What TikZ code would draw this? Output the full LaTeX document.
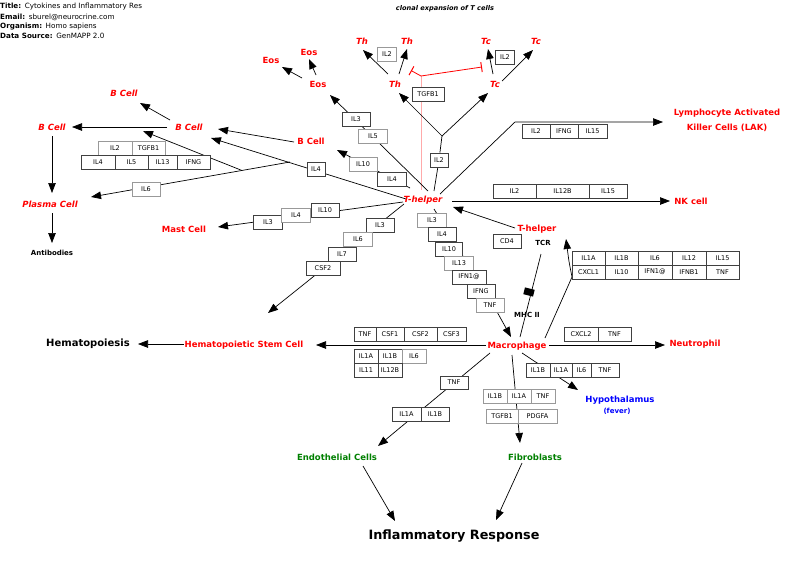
\documentclass[tikz,border=0pt]{standalone}
\usepackage{fontspec}
\setmainfont{DejaVu Sans}
\usetikzlibrary{arrows.meta,backgrounds}
\definecolor{gred}{RGB}{255,0,0}
\definecolor{ggreen}{RGB}{0,128,0}
\definecolor{gblue}{RGB}{0,0,255}
\definecolor{gpink}{RGB}{255,170,170}
\newcommand\gmcell[7][bx]{\node[#1,minimum width={#5-#3},minimum height={#6-#4}] (#2) at ({(#3+#5)/2},{(#4+#6)/2}) {#7};}
\newcommand\gmbox[6][bx]{\node[#1,minimum width=#5] (#2) at (#3,#4) {#6};}
\begin{document}
\begin{tikzpicture}[x=1pt,y=-1pt,
 hdr/.style={font=\fontsize{7.2}{8}\selectfont, inner sep=0pt, anchor=west},
 lbl/.style={font=\fontsize{8.5}{10}\selectfont\bfseries, text=gred, inner sep=1pt},
 lbli/.style={lbl, font=\fontsize{8.5}{10}\selectfont\bfseries\itshape},
 blk/.style={font=\fontsize{7}{8}\selectfont\bfseries, inner sep=1pt},
 bx/.style={draw=black!75, fill=white, line width=0.6pt, font=\fontsize{6.5}{7}\selectfont, inner sep=0pt, minimum height=14pt},
 gbx/.style={bx, draw=black!40},
 conn/.style={line width=0.7pt, black},
 arr/.style={conn, -{Triangle[length=10pt,width=7.5pt]}},
 inh/.style={gred, line width=0.8pt, -{Bar[width=10pt,line width=1pt]}}
]
\useasboundingbox (0,0) rectangle (800,563);
% header
\node[hdr] (h1) at (0,7) {\textbf{Title:}\enspace Cytokines and Inflammatory Res};
\node[hdr] (h2) at (0,17) {\textbf{Email:}\enspace sburel@neurocrine.com};
\node[hdr] (h3) at (0,27) {\textbf{Organism:}\enspace Homo sapiens};
\node[hdr] (h4) at (0,35.5) {\textbf{Data Source:}\enspace GenMAPP 2.0};
\node[font=\fontsize{6.6}{7}\selectfont\bfseries\itshape] (clon) at (445,9) {clonal expansion of T cells};
% labels
\node[lbli] (Th1) at (362,41) {Th};
\node[lbli] (Th2) at (407,41) {Th};
\node[lbli] (Tc1) at (486,41) {Tc};
\node[lbli] (Tc2) at (536,41) {Tc};
\node[lbl] (Eos1) at (309,52) {Eos};
\node[lbl] (Eos2) at (271,60) {Eos};
\node[lbl] (Eos3) at (318,84) {Eos};
\node[lbli] (ThM) at (395,84) {Th};
\node[lbli] (TcM) at (495,84) {Tc};
\node[lbli] (BCt) at (124,93) {B Cell};
\node[lbli] (BCl) at (52,127) {B Cell};
\node[lbli] (BCm) at (189,127) {B Cell};
\node[lbl] (BCr) at (311,141) {B Cell};
\node[lbl, align=center, font=\fontsize{8.5}{15}\selectfont\bfseries] (LAK) at (727,120) {Lymphocyte Activated\\Killer Cells (LAK)};
\node[lbli] (TH) at (423,200) {T-helper};
\node[lbl] (NK) at (691,201) {NK cell};
\node[lbli] (PC) at (50,204) {Plasma Cell};
\node[lbl] (Mast) at (184,229) {Mast Cell};
\node[lbl] (TH2) at (537,229) {T-helper};
\node[blk] (TCR) at (543,243) {TCR};
\node[blk] (MHC) at (527,315) {MHC II};
\node[blk] (Ab) at (52,253) {Antibodies};
\node[font=\fontsize{10}{12}\selectfont\bfseries] (Hpoi) at (88,344) {Hematopoiesis};
\node[lbl] (HSC) at (244,345) {Hematopoietic Stem Cell};
\node[lbl] (Mac) at (517,346) {Macrophage};
\node[lbl] (Neu) at (695,344) {Neutrophil};
\node[lbl, text=gblue] (Hyp) at (620,400) {Hypothalamus};
\node[lbl, text=gblue, font=\fontsize{7}{8}\selectfont\bfseries] (fev) at (617,411) {(fever)};
\node[lbl, text=ggreen] (Endo) at (337,457) {Endothelial Cells};
\node[lbl, text=ggreen] (Fib) at (535,457) {Fibroblasts};
\node[font=\fontsize{12.8}{14}\selectfont\bfseries] (IR) at (454,536) {Inflammatory Response};
% boxes
\gmbox[gbx]{bIL2a}{387}{54}{19}{IL2}
\gmbox{bIL2b}{505}{57}{19}{IL2}
\gmbox{bTGFa}{428}{94}{32}{TGFB1}
\gmbox{bIL3a}{356}{119}{28}{IL3}
\gmbox[gbx]{bIL5a}{373}{136}{29}{IL5}
\gmbox[gbx]{bIL10a}{363}{164}{28}{IL10}
\gmbox{bIL4a}{392}{179}{29}{IL4}
\gmbox{bIL2c}{439}{160}{18}{IL2}
\gmbox{bIL4b}{316}{169}{18}{IL4}
\gmcell[gbx]{bB1}{98}{141}{132}{155}{IL2}
\gmcell[gbx]{bB2}{132}{141}{165}{155}{TGFB1}
\gmcell{bB3}{81}{155}{115}{169}{IL4}
\gmcell{bB4}{115}{155}{148}{169}{IL5}
\gmcell{bB5}{148}{155}{177}{169}{IL13}
\gmcell{bB6}{177}{155}{210}{169}{IFNG}
\gmbox[gbx]{bIL6}{146}{189}{28}{IL6}
\gmbox{mIL3}{268}{222}{29}{IL3}
\gmbox[gbx]{mIL4}{296}{215}{29}{IL4}
\gmbox{mIL10}{325}{210}{28}{IL10}
\gmbox{sIL3}{380}{225}{28}{IL3}
\gmbox[gbx]{sIL6}{358}{239}{29}{IL6}
\gmbox{sIL7}{342}{254}{28}{IL7}
\gmbox{sCSF2}{323}{268}{34}{CSF2}
\gmbox[gbx]{rIL3}{432}{220}{29}{IL3}
\gmbox{rIL4}{442}{234}{28}{IL4}
\gmbox{rIL10}{449}{249}{27}{IL10}
\gmbox[gbx]{rIL13}{459}{263}{29}{IL13}
\gmbox{rIFN}{469}{277}{34}{IFN1@}
\gmbox{rIFNG}{481}{291}{28}{IFNG}
\gmbox[gbx]{rTNF}{490}{305}{28}{TNF}
\gmbox{bCD4}{507}{241}{28}{CD4}
\gmcell{lk1}{522}{124}{550}{138}{IL2}
\gmcell{lk2}{550}{124}{578}{138}{IFNG}
\gmcell{lk3}{578}{124}{607}{138}{IL15}
\gmcell{nk1}{493}{184}{536}{198}{IL2}
\gmcell{nk2}{536}{184}{589}{198}{IL12B}
\gmcell{nk3}{589}{184}{627}{198}{IL15}
\gmcell{t1}{572}{251}{605}{265}{IL1A}
\gmcell{t2}{605}{251}{638}{265}{IL1B}
\gmcell{t3}{638}{251}{672}{265}{IL6}
\gmcell{t4}{672}{251}{706}{265}{IL12}
\gmcell{t5}{706}{251}{739}{265}{IL15}
\gmcell{t6}{572}{265}{605}{279}{CXCL1}
\gmcell{t7}{605}{265}{638}{279}{IL10}
\gmcell{t8}{638}{265}{672}{279}{IFN1@}
\gmcell{t9}{672}{265}{706}{279}{IFNB1}
\gmcell{t10}{706}{265}{739}{279}{TNF}
\gmcell{h1c}{354}{327}{376}{341}{TNF}
\gmcell{h2c}{376}{327}{404}{341}{CSF1}
\gmcell{h3c}{404}{327}{437}{341}{CSF2}
\gmcell{h4c}{437}{327}{466}{341}{CSF3}
\gmcell{h5c}{354}{349}{378}{363}{IL1A}
\gmcell{h6c}{378}{349}{402}{363}{IL1B}
\gmcell[gbx]{h7c}{402}{349}{426}{363}{IL6}
\gmcell{h8c}{354}{363}{378}{377}{IL11}
\gmcell{h9c}{378}{363}{402}{377}{IL12B}
\gmcell{n1c}{564}{327}{598}{341}{CXCL2}
\gmcell{n2c}{598}{327}{631}{341}{TNF}
\gmcell{y1c}{526}{363}{550}{377}{IL1B}
\gmcell{y2c}{550}{363}{572}{377}{IL1A}
\gmcell{y3c}{572}{363}{591}{377}{IL6}
\gmcell{y4c}{591}{363}{619}{377}{TNF}
\gmcell{e1c}{440}{376}{468}{389}{TNF}
\gmcell{e2c}{392}{407}{421}{421}{IL1A}
\gmcell{e3c}{421}{407}{449}{421}{IL1B}
\gmcell[gbx]{f1c}{483}{389}{507}{403}{IL1B}
\gmcell[gbx]{f2c}{507}{389}{531}{403}{IL1A}
\gmcell[gbx]{f3c}{531}{389}{555}{403}{TNF}
\gmcell[gbx]{f4c}{486}{409}{518}{423}{TGFB1}
\gmcell[gbx]{f5c}{518}{409}{557}{423}{PDGFA}
\node[fill=black, minimum width=10pt, minimum height=7pt, inner sep=0pt, rotate=-14] (blkm) at (529,292) {};
% connector points
\coordinate (pE3a) at (316,75); \coordinate (pE1) at (309,59);
\coordinate (pE3b) at (302,78); \coordinate (pE2) at (282,67);
\coordinate (pThMa) at (388,74); \coordinate (pTh1) at (363,50);
\coordinate (pThMb) at (399,74); \coordinate (pTh2) at (407,49);
\coordinate (pTcMa) at (493,74); \coordinate (pTc1) at (488,49);
\coordinate (pTcMb) at (502,81); \coordinate (pTc2) at (533,50);
\coordinate (R0) at (421,76); \coordinate (R1) at (411,70.5); \coordinate (R2) at (482,67); \coordinate (R3) at (421,190);
\coordinate (J) at (442,136); \coordinate (pTHa) at (434,191);
\coordinate (pThMc) at (399,93); \coordinate (pTcMc) at (488,93);
\coordinate (pTHb) at (428,191); \coordinate (pE3c) at (330,95);
\coordinate (pTHc) at (410,188); \coordinate (pBCr) at (337,150);
\coordinate (pBCra) at (294,142); \coordinate (pBCm1) at (218,129);
\coordinate (pTHd) at (406,199); \coordinate (pBCm2) at (211,138);
\coordinate (J1) at (290,162); \coordinate (K) at (242,170.5); \coordinate (pPC) at (91,197);
\coordinate (pBmid) at (143,131);
\coordinate (pBCm3) at (170,120); \coordinate (pBCt) at (140,103);
\coordinate (pBCm4) at (167,127); \coordinate (pBCl) at (72,127);
\coordinate (pBCl2) at (52,136); \coordinate (pPC1) at (52,193);
\coordinate (pPC2) at (52,213); \coordinate (pAb) at (52,243);
\coordinate (pTHe) at (403,202); \coordinate (pMast) at (218,227);
\coordinate (pTHf) at (404,204); \coordinate (pHs) at (268,313);
\coordinate (pTHg) at (434,209); \coordinate (pTNF) at (496,310); \coordinate (pMac1) at (511,337);
\coordinate (pTHh) at (440,194); \coordinate (pLK) at (515,122); \coordinate (pLAK) at (663,122);
\coordinate (pTHi) at (452,201); \coordinate (pNK) at (670,201);
\coordinate (pTH2) at (515,228); \coordinate (pTHj) at (453,207);
\coordinate (pTCR) at (541,254); \coordinate (pMHC) at (520,337);
\coordinate (pMac2) at (545,338); \coordinate (pTb) at (572,277); \coordinate (pTH2b) at (566,239);
\coordinate (pMac3) at (486,345); \coordinate (pHSC) at (316,345);
\coordinate (pHSC2) at (184,344); \coordinate (pHpoi) at (138,344);
\coordinate (pMac4) at (549,345); \coordinate (pNeu) at (665,345);
\coordinate (pMac5) at (522,353); \coordinate (pHyp) at (578,390);
\coordinate (pMac6) at (512,355); \coordinate (pFib) at (520,443);
\coordinate (pMac7) at (490,353); \coordinate (pEndo) at (378,446);
\coordinate (pEndo2) at (363,466); \coordinate (pIR1) at (395,521);
\coordinate (pFib2) at (522,463); \coordinate (pIR2) at (496,520);
\begin{pgfonlayer}{background}
\fill[white] (0,0) rectangle (800,563);
\draw[arr] (pE3a) -- (pE1);
\draw[arr] (pE3b) -- (pE2);
\draw[arr] (pThMa) -- (pTh1);
\draw[arr] (pThMb) -- (pTh2);
\draw[arr] (pTcMa) -- (pTc1);
\draw[arr] (pTcMb) -- (pTc2);
\draw[gpink, line width=0.6pt] (R0) -- (R3);
\draw[inh] (R0) -- (R1);
\draw[inh] (R0) -- (R2);
\draw[conn] (pTHa) -- (bIL2c) -- (J);
\draw[arr] (J) -- (pThMc);
\draw[arr] (J) -- (pTcMc);
\draw[arr] (pTHb) -- (pE3c);
\draw[arr] (pTHc) -- (pBCr);
\draw[arr] (pBCra) -- (pBCm1);
\draw[arr] (pTHd) -- (pBCm2);
\draw[arr] (J1) -- (pPC);
\draw[arr] (K) -- (pBmid);
\draw[arr] (pBCm3) -- (pBCt);
\draw[arr] (pBCm4) -- (pBCl);
\draw[arr] (pBCl2) -- (pPC1);
\draw[arr] (pPC2) -- (pAb);
\draw[arr] (pTHe) -- (pMast);
\draw[arr] (pTHf) -- (pHs);
\draw[arr] (pTHg) -- (pTNF) -- (pMac1);
\draw[arr] (pTHh) -- (pLK) -- (pLAK);
\draw[arr] (pTHi) -- (pNK);
\draw[arr] (pTH2) -- (pTHj);
\draw[conn] (pTCR) -- (pMHC);
\draw[arr] (pMac2) -- (pTb) .. controls (569,262) .. (pTH2b);
\draw[arr] (pMac3) -- (pHSC);
\draw[arr] (pHSC2) -- (pHpoi);
\draw[arr] (pMac4) -- (pNeu);
\draw[arr] (pMac5) -- (pHyp);
\draw[arr] (pMac6) -- (pFib);
\draw[arr] (pMac7) -- (pEndo);
\draw[arr] (pEndo2) -- (pIR1);
\draw[arr] (pFib2) -- (pIR2);
\end{pgfonlayer}
\end{tikzpicture}
\end{document}
